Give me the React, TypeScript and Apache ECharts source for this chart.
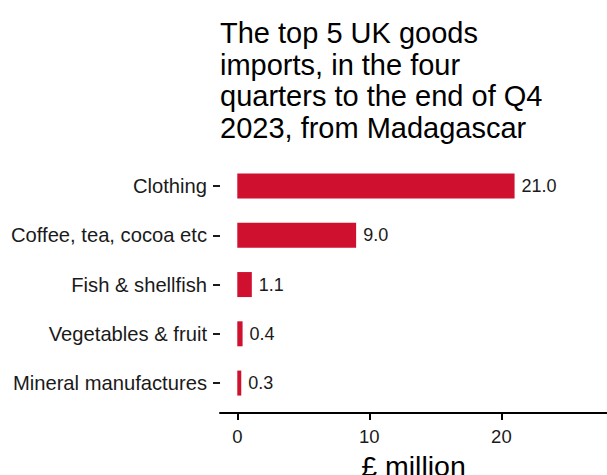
import React, { useEffect, useRef } from "react";
import * as echarts from "echarts";

const categories = [
  "Clothing",
  "Coffee, tea, cocoa etc",
  "Fish & shellfish",
  "Vegetables & fruit",
  "Mineral manufactures",
];
const values = [21.0, 9.0, 1.1, 0.4, 0.3];
const xTicks = [0, 10, 20];
const titleText =
  "The top 5 UK goods\nimports, in the four\nquarters to the end of Q4\n2023, from Madagascar";
const axisName = "£ million";

const FONT = "'Liberation Sans', Arial, sans-serif";

export default function App() {
  const ref = useRef<HTMLDivElement>(null);
  useEffect(() => {
    if (!ref.current) return;
    const chart = echarts.init(ref.current, null, { renderer: "svg" });
    chart.setOption({
      animation: false,
      backgroundColor: "#ffffff",
      textStyle: { fontFamily: FONT },
      title: {
        text: titleText,
        left: 220,
        top: 17,
        padding: 0,
        textStyle: {
          fontFamily: FONT,
          fontSize: 29,
          lineHeight: 31.7,
          fontWeight: "normal",
          color: "#000000",
        },
      },
      grid: {
        left: 220,
        right: 0,
        top: 161.4,
        bottom: 67.3,
        containLabel: false,
        outerBoundsMode: "none",
      },
      xAxis: {
        type: "value",
        min: -1.31,
        max: 28,
        offset: 5.3,
        name: axisName,
        nameLocation: "middle",
        nameGap: 38,
        nameTextStyle: { fontFamily: FONT, fontSize: 28.5, color: "#000000" },
        axisLine: { show: true, lineStyle: { color: "#000000", width: 2 } },
        axisTick: {
          show: true,
          length: 7,
          lineStyle: { color: "#000000", width: 2 },
          customValues: xTicks,
        },
        axisLabel: {
          fontFamily: FONT,
          fontSize: 18.5,
          color: "#1a1a1a",
          margin: 14,
          customValues: xTicks,
        },
        splitLine: { show: false },
      },
      yAxis: {
        type: "category",
        inverse: true,
        data: categories,
        axisLine: { show: false, onZero: false },
        axisTick: {
          show: true,
          alignWithLabel: true,
          length: 7,
          lineStyle: { color: "#1a1a1a", width: 2 },
        },
        axisLabel: {
          fontFamily: FONT,
          fontSize: 20.2,
          color: "#1a1a1a",
          margin: 13,
        },
        splitLine: { show: false },
      },
      series: [
        {
          type: "bar",
          data: values,
          barWidth: 25,
          itemStyle: { color: "#cf102e" },
          label: {
            show: true,
            position: "right",
            distance: 7,
            fontFamily: FONT,
            fontSize: 18,
            color: "#1a1a1a",
            formatter: (p: any) => Number(p.value).toFixed(1),
          },
        },
      ],
    });
    return () => chart.dispose();
  }, []);
  return (
    <div
      ref={ref}
      style={{ position: "fixed", left: 0, top: 0, width: 607, height: 475 }}
    />
  );
}
